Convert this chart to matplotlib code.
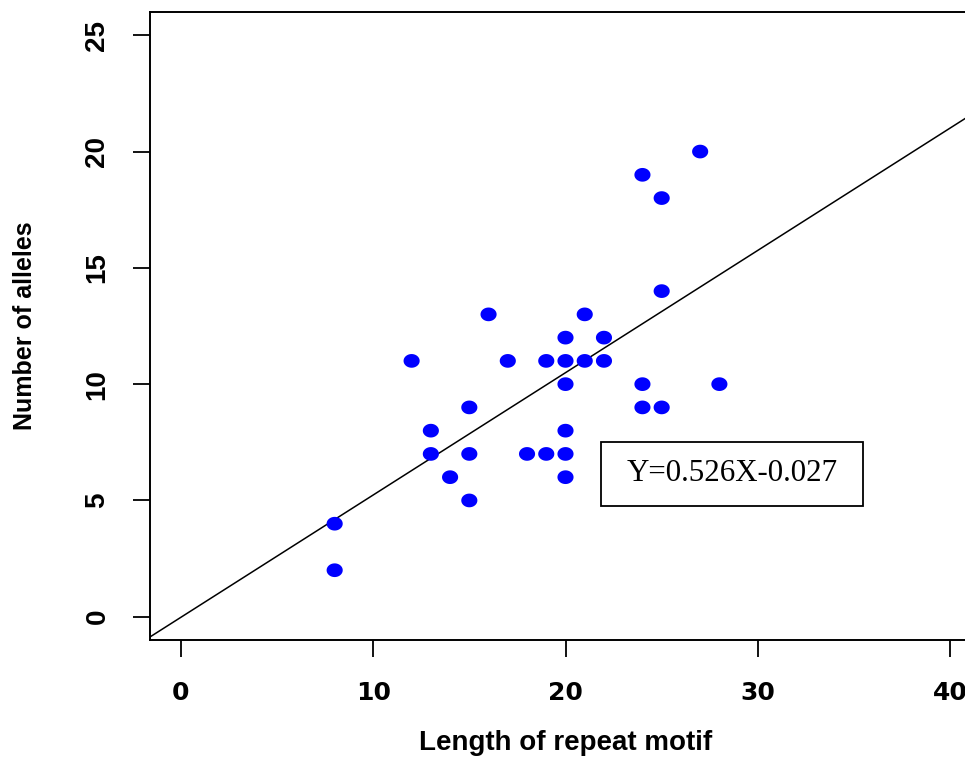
import numpy as np
import matplotlib.pyplot as plt
from matplotlib.path import Path
from matplotlib.patches import Rectangle

# repeat motif length vs number of alleles
motif_len = [8, 8, 12, 13, 13, 14, 15, 15, 15, 16, 17, 18, 19, 19,
             20, 20, 20, 20, 20, 20, 21, 21, 22, 22, 24, 24, 24, 25, 25, 25, 27, 28]
n_alleles = [4, 2, 11, 8, 7, 6, 9, 7, 5, 13, 11, 7, 11, 7,
             12, 11, 10, 8, 7, 6, 13, 11, 12, 11, 19, 10, 9, 18, 14, 9, 20, 10]
slope, intercept = 0.526, -0.027
eq_text = "Y=0.526X-0.027"

plt.rcParams['font.family'] = ['Liberation Sans', 'DejaVu Sans']

fig = plt.figure(figsize=(9.65, 7.66), dpi=100)
ax = fig.add_axes([150 / 965, 126 / 766, 831 / 965, 628 / 766])

# slightly flattened dot, like the original
t = np.linspace(0, 2 * np.pi, 40)
ellipse = Path(np.column_stack([np.cos(t), 0.85 * np.sin(t)]))
ax.scatter(motif_len, n_alleles, s=135, marker=ellipse, color='#0000ff',
           edgecolors='none', zorder=3)

xs = np.array([-5, 50])
ax.plot(xs, slope * xs + intercept, color='black', lw=1.1, zorder=2)

ax.set_xlim(-1.6, 41.6)
ax.set_ylim(-1, 26)
ax.set_xticks([0, 10, 20, 30, 40])
ax.set_yticks([0, 5, 10, 15, 20, 25])
ax.tick_params(direction='out', length=12.5, width=1.3, pad=17)
ax.tick_params(axis='y', labelrotation=90, pad=16)
for lab in ax.get_xticklabels():
    lab.set_fontweight('bold')
    lab.set_family('DejaVu Sans')
    lab.set_fontsize(18)
for lab in ax.get_yticklabels():
    lab.set_va('center')
    lab.set_fontweight('bold')
    lab.set_fontsize(20)
for sp in ax.spines.values():
    sp.set_linewidth(1.4)

ax.set_xlabel('Length of repeat motif', fontsize=20, fontweight='bold', labelpad=18)
ax.set_ylabel('Number of alleles', fontsize=18, fontweight='bold', labelpad=34)

ax.add_patch(Rectangle((21.84, 4.77), 13.63, 2.75, fill=False, lw=1.3,
                       edgecolor='black', zorder=4))
ax.text(28.65, 6.15, eq_text, fontsize=22.3, family='Liberation Serif',
        ha='center', va='center', zorder=5)

fig.savefig('out.png', dpi=100)
